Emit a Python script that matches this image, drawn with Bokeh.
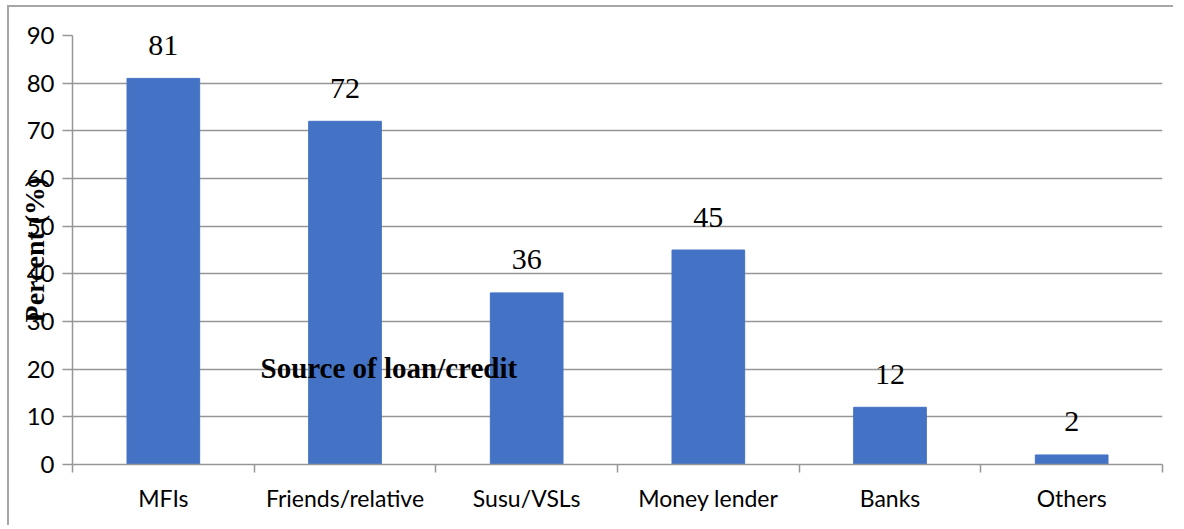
from bokeh.plotting import figure
from bokeh.models import Range1d, FixedTicker, Label, ColumnDataSource
from bokeh.embed import file_html
from bokeh.resources import INLINE

categories = ["MFIs", "Friends/relative", "Susu/VSLs", "Money lender", "Banks", "Others"]
values = [81, 72, 36, 45, 12, 2]
y_ticks = [0, 10, 20, 30, 40, 50, 60, 70, 80, 90]
y_title = "Percent (%)"
inner_title = "Source of loan/credit"

xs = [i + 0.5 for i in range(len(categories))]
src = ColumnDataSource(dict(x=xs, top=values, lab=[str(v) for v in values]))

p = figure(width=1166, height=520, output_backend="svg", toolbar_location=None,
           x_range=Range1d(0, len(categories)), y_range=Range1d(0, 90),
           min_border_left=63, min_border_right=13, min_border_top=28, min_border_bottom=63)
p.styles = {"margin-left": "7px", "margin-top": "5px",
            "border-top": "2px solid #a6a6a6", "border-left": "2px solid #a6a6a6"}
p.outline_line_color = None
p.background_fill_color = "white"
p.border_fill_color = "white"

p.vbar(x="x", top="top", width=0.4, bottom=0, source=src, color="#4472C4")

p.text(x="x", y="top", text="lab", source=src, text_align="center", text_baseline="alphabetic",
       y_offset=-33, text_font={"value": "Liberation Serif"}, text_font_size="30px", text_color="#000000")

gcol = "#969696"
p.xgrid.grid_line_color = None
p.ygrid.grid_line_color = gcol
p.ygrid.grid_line_width = 1.5
p.yaxis.ticker = FixedTicker(ticks=y_ticks)
p.yaxis.axis_line_color = gcol
p.yaxis.axis_line_width = 1.5
p.yaxis.major_tick_line_color = gcol
p.yaxis.major_tick_line_width = 1.5
p.yaxis.major_tick_out = 10
p.yaxis.major_tick_in = 0
p.yaxis.minor_tick_line_color = None
p.yaxis.major_label_standoff = 8
p.yaxis.major_label_text_font = "Lato"
p.yaxis.major_label_text_font_size = "24px"
p.yaxis.major_label_text_color = "#000000"
p.yaxis.axis_label = y_title
p.yaxis.axis_label_standoff = -26
p.yaxis.axis_label_text_font = "Liberation Serif"
p.yaxis.axis_label_text_font_style = "bold"
p.yaxis.axis_label_text_font_size = "28px"
p.yaxis.axis_label_text_color = "#000000"

p.xaxis.ticker = FixedTicker(ticks=xs, minor_ticks=list(range(len(categories) + 1)))
p.xaxis.major_label_overrides = {x: c for x, c in zip(xs, categories)}
p.xaxis.axis_line_color = gcol
p.xaxis.axis_line_width = 1.5
p.xaxis.major_tick_line_color = None
p.xaxis.major_tick_out = 0
p.xaxis.major_tick_in = 0
p.xaxis.minor_tick_line_color = gcol
p.xaxis.minor_tick_line_width = 1.5
p.xaxis.minor_tick_out = 8
p.xaxis.minor_tick_in = 0
p.xaxis.major_label_standoff = 11
p.xaxis.major_label_text_font = "Lato"
p.xaxis.major_label_text_font_size = "23px"
p.xaxis.major_label_text_color = "#000000"

unit_x = 1090 / 6.0
unit_y = 429 / 90.0
p.add_layout(Label(x=(260 - 72) / unit_x, y=(464 - 367) / unit_y, text=inner_title,
                   text_align="left", text_baseline="alphabetic", text_font="Liberation Serif",
                   text_font_style="bold", text_font_size="29px", text_color="#000000"))

open("out.html", "w").write(file_html(p, INLINE))
